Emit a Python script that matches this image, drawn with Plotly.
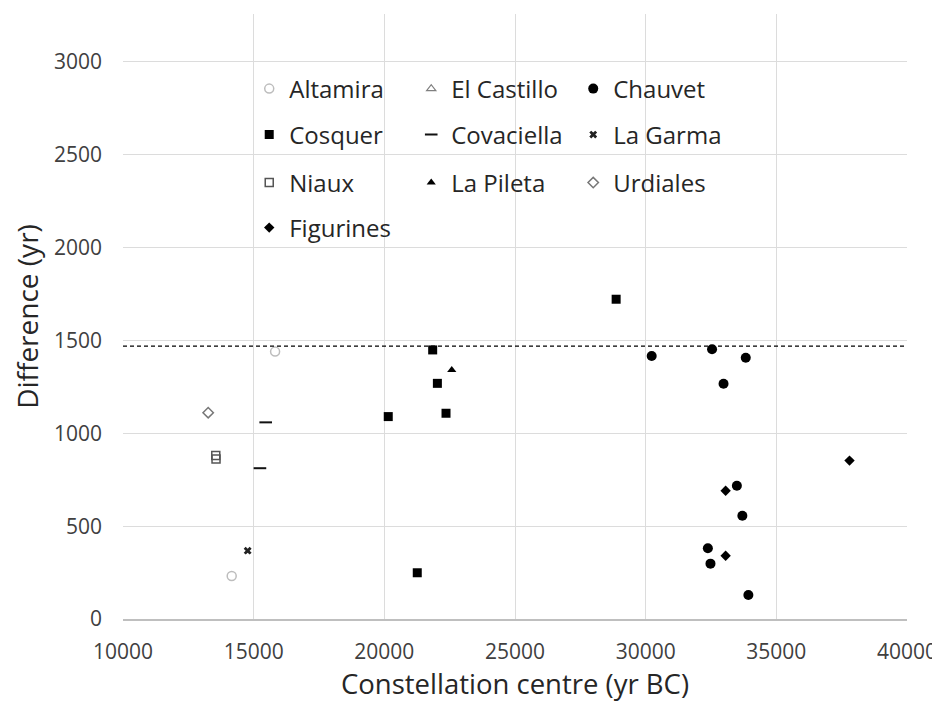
import plotly.graph_objects as go

# ---- data ----
altamira_x = [15820, 14160]
altamira_y = [1440, 232]

el_castillo_x = [None]   # no visible point, legend entry only
el_castillo_y = [None]

chauvet_x = [30230, 32540, 33830, 32980, 33490, 33700, 32380, 32480, 33930]
chauvet_y = [1416, 1453, 1407, 1267, 718, 556, 381, 298, 129]

cosquer_x = [21850, 22030, 22360, 20150, 21260, 28870]
cosquer_y = [1449, 1269, 1108, 1090, 249, 1722]

covaciella_x = [15460, 15240]
covaciella_y = [1059, 812]

la_garma_x = [14770]
la_garma_y = [368]

niaux_x = [13550, 13560]
niaux_y = [880, 862]

la_pileta_x = [22580]
la_pileta_y = [1341]

urdiales_x = [13260]
urdiales_y = [1111]

figurines_x = [33060, 33060, 37800]
figurines_y = [691, 341, 853]

threshold = 1470

x_ticks = [10000, 15000, 20000, 25000, 30000, 35000, 40000]
y_ticks = [0, 500, 1000, 1500, 2000, 2500, 3000]

# ---- figure ----
fig = go.Figure()

def add(name, xs, ys, symbol, color, size, legend, line_width=0):
    fig.add_trace(go.Scatter(
        x=xs, y=ys, mode="markers", name=name, legend=legend,
        marker=dict(symbol=symbol, color=color, size=size,
                    line=dict(color=color, width=line_width)),
    ))

add("Altamira", altamira_x, altamira_y, "circle-open", "#bdbdbd", 9, "legend", line_width=1.5)
add("El Castillo", el_castillo_x, el_castillo_y, "triangle-up-open", "#7f7f7f", 8, "legend", line_width=1.2)
add("Chauvet", chauvet_x, chauvet_y, "circle", "#000000", 10, "legend")
add("Cosquer", cosquer_x, cosquer_y, "square", "#000000", 9, "legend2")
add("Covaciella", covaciella_x, covaciella_y, "line-ew", "#111111", 9, "legend2", line_width=2)
add("La Garma", la_garma_x, la_garma_y, "x", "#222222", 7, "legend2")
add("Niaux", niaux_x, niaux_y, "square-open", "#555555", 8, "legend3", line_width=1.5)
add("La Pileta", la_pileta_x, la_pileta_y, "triangle-up", "#000000", 8, "legend3")
add("Urdiales", urdiales_x, urdiales_y, "diamond-open", "#777777", 8, "legend3", line_width=1.5)
add("Figurines", figurines_x, figurines_y, "diamond", "#000000", 8, "legend4")

fig.add_hline(y=threshold, line=dict(color="#000000", width=1.2, dash="4px,3px"))

leg_common = dict(orientation="h", x=0.161, xanchor="left", yanchor="middle",
                  entrywidth=117, entrywidthmode="pixels",
                  font=dict(family="Open Sans", size=24, color="#262626"),
                  bgcolor="rgba(0,0,0,0)", itemclick=False)

fig.update_layout(
    width=932, height=701,
    margin=dict(l=115, r=33, t=6, b=90),
    plot_bgcolor="white", paper_bgcolor="white",
    font=dict(family="Open Sans", color="#404040"),
    legend=dict(y=0.876, **leg_common),
    legend2=dict(y=0.800, **leg_common),
    legend3=dict(y=0.7207, **leg_common),
    legend4=dict(y=0.6463, **leg_common),
    xaxis=dict(
        range=[10000, 40000], tickvals=x_ticks,
        ticktext=[str(v) for v in x_ticks],
        showgrid=True, gridcolor="#dcdcdc", gridwidth=1,
        zeroline=False, showline=True, linecolor="#bfbfbf", linewidth=1.5,
        ticks="", ticklabelstandoff=13, automargin=False,
        tickfont=dict(family="Open Sans", size=21, color="#404040"),
        title=dict(text="Constellation centre (yr BC)", standoff=11,
                   font=dict(family="Open Sans", size=27.5, color="#262626")),
    ),
    yaxis=dict(
        range=[0, 3258], tickvals=y_ticks,
        ticktext=[str(v) for v in y_ticks],
        showgrid=True, gridcolor="#dcdcdc", gridwidth=1,
        zeroline=False, showline=False,
        ticks="", ticklabelstandoff=20, automargin=False,
        tickfont=dict(family="Open Sans", size=21, color="#404040"),
        title=dict(text="Difference (yr)", standoff=8,
                   font=dict(family="Open Sans", size=28, color="#262626")),
    ),
)

fig.write_html("out.html")
